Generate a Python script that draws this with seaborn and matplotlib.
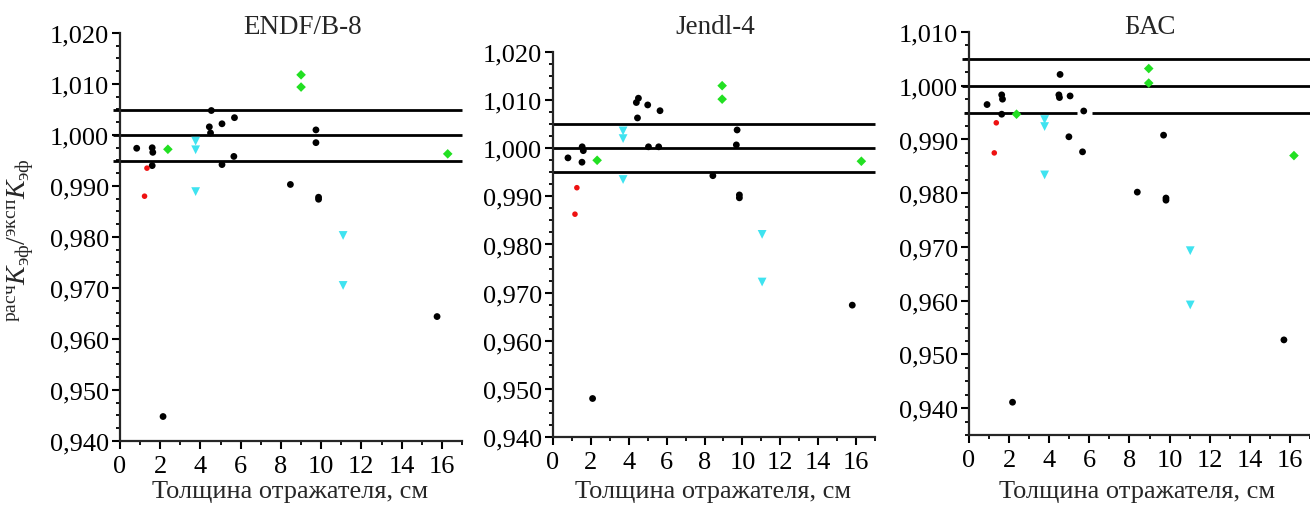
import numpy as np
import pandas as pd
import seaborn as sns
import matplotlib
matplotlib.use("Agg")
import matplotlib.pyplot as plt
from matplotlib.ticker import FuncFormatter, MultipleLocator

sns.set_style("ticks")
plt.rcParams['font.family'] = ['Liberation Serif', 'DejaVu Serif']
plt.rcParams['mathtext.fontset'] = 'custom'
plt.rcParams['mathtext.rm'] = 'Liberation Serif'
plt.rcParams['mathtext.it'] = 'Liberation Serif:italic'
plt.rcParams['mathtext.bf'] = 'Liberation Serif:bold'

titles = ["ENDF/B-8", "Jendl-4", "БАС"]
xlabel = "Толщина отражателя, см"
ylabel = r"$^{\mathrm{расч}}K_{\mathrm{эф}}/^{\mathrm{эксп}}K_{\mathrm{эф}}$"
ref_levels = [0.995, 1.000, 1.005]

# ---- ENDF/B-8 ----
endf_black_x = [0.83, 1.60, 1.63, 1.60, 2.14, 4.54, 4.44, 4.50, 5.07, 5.07, 5.69, 5.66, 8.47, 9.74, 9.74, 9.87, 9.87, 15.76]
endf_black_y = [0.9974, 0.9975, 0.9966, 0.9940, 0.9448, 1.0048, 1.0016, 1.0004, 0.9942, 1.0022, 1.0034, 0.9958, 0.9903, 1.0010, 0.9985, 0.9878, 0.9874, 0.9644]
endf_red_x = [1.34, 1.22]
endf_red_y = [0.9935, 0.9880]
endf_green_x = [2.38, 9.00, 9.00, 16.29]
endf_green_y = [0.9972, 1.0118, 1.0094, 0.9963]
endf_cyan_x = [3.76, 3.76, 3.76, 11.09, 11.09]
endf_cyan_y = [0.9988, 0.9971, 0.9889, 0.9803, 0.9705]

# ---- Jendl-4 ----
jendl_black_x = [0.79, 1.54, 1.60, 1.53, 2.09, 4.40, 4.51, 4.46, 5.00, 5.04, 5.58, 5.65, 8.44, 9.72, 9.68, 9.84, 9.84, 15.80]
jendl_black_y = [0.9980, 1.0003, 0.9995, 0.9971, 0.9480, 1.0095, 1.0104, 1.0063, 1.0090, 1.0003, 1.0003, 1.0078, 0.9943, 1.0038, 1.0007, 0.9903, 0.9897, 0.9674]
jendl_red_x = [1.26, 1.16]
jendl_red_y = [0.9918, 0.9863]
jendl_green_x = [2.33, 8.93, 8.93, 16.28]
jendl_green_y = [0.9975, 1.0130, 1.0102, 0.9973]
jendl_cyan_x = [3.70, 3.70, 3.70, 11.04, 11.04]
jendl_cyan_y = [1.0036, 1.0020, 0.9935, 0.9821, 0.9722]

# ---- БАС ----
bas_black_x = [0.90, 1.63, 1.67, 1.63, 2.17, 4.54, 4.48, 4.51, 5.04, 4.98, 5.72, 5.66, 8.39, 9.70, 9.82, 9.82, 15.70]
bas_black_y = [0.9965, 0.9983, 0.9975, 0.9947, 0.9411, 1.0021, 0.9983, 0.9978, 0.9981, 0.9905, 0.9953, 0.9877, 0.9802, 0.9908, 0.9791, 0.9787, 0.9527]
bas_red_x = [1.36, 1.26]
bas_red_y = [0.9931, 0.9875]
bas_green_x = [2.37, 8.96, 8.96, 16.20]
bas_green_y = [0.9947, 1.0032, 1.0005, 0.9870]
bas_cyan_x = [3.77, 3.77, 3.77, 11.03, 11.03]
bas_cyan_y = [0.9937, 0.9924, 0.9834, 0.9693, 0.9592]

# segments of the 0.995 line in the БАС panel (drawn with a break)
bas_low_line_x0 = [-0.25, 6.12]
bas_low_line_x1 = [5.37, 17.0]

panels = [
    dict(black=(endf_black_x, endf_black_y), red=(endf_red_x, endf_red_y),
         green=(endf_green_x, endf_green_y), cyan=(endf_cyan_x, endf_cyan_y)),
    dict(black=(jendl_black_x, jendl_black_y), red=(jendl_red_x, jendl_red_y),
         green=(jendl_green_x, jendl_green_y), cyan=(jendl_cyan_x, jendl_cyan_y)),
    dict(black=(bas_black_x, bas_black_y), red=(bas_red_x, bas_red_y),
         green=(bas_green_x, bas_green_y), cyan=(bas_cyan_x, bas_cyan_y)),
]

W, H = 1310, 506
fig = plt.figure(figsize=(W / 100, H / 100), dpi=100)

# axes boxes in pixels: left, right, top, bottom
boxes = [(120, 462, 34, 442), (553, 875, 53, 438), (969, 1310, 33, 436)]
ylims = [(0.940, 1.020), (0.940, 1.020), (0.935, 1.010)]
title_x = [303, 715, 1150]
xlabel_x = [290, 713, 1137]

styles = {
    'black': dict(color='black', marker='o', s=24),
    'red': dict(color='#ee1111', marker='o', s=16),
    'green': dict(color='#22e022', marker='D', s=24),
    'cyan': dict(color='#3fe3f0', marker='v', s=40),
}

for i, (box, p) in enumerate(zip(boxes, panels)):
    l, r, t, b = box
    ax = fig.add_axes([l / W, 1 - b / H, (r - l) / W, (b - t) / H])
    ax.set_facecolor('none')
    ax.set_xlim(0, 17)
    ax.set_ylim(*ylims[i])
    # reference lines
    for lev in ref_levels:
        if i == 2 and lev == 0.995:
            ax.hlines([lev] * len(bas_low_line_x0), bas_low_line_x0, bas_low_line_x1,
                      color='black', lw=2.0, zorder=2, clip_on=False)
        else:
            x0 = -0.35 if i != 1 else 0
            ax.hlines(lev, x0, 17, color='black', lw=2.0, zorder=2, clip_on=False)
    for key in ['black', 'red', 'cyan', 'green']:
        xs, ys = p[key]
        st = styles[key]
        sns.scatterplot(x=xs, y=ys, ax=ax, color=st['color'], marker=st['marker'],
                        s=st['s'], linewidth=0, edgecolor='none', zorder=3, legend=False)
    sns.despine(ax=ax)
    ax.spines['left'].set_linewidth(1.6)
    ax.spines['bottom'].set_linewidth(1.6)
    ax.xaxis.set_major_locator(MultipleLocator(2))
    ax.xaxis.set_minor_locator(MultipleLocator(1))
    ax.yaxis.set_major_locator(MultipleLocator(0.01))
    ax.yaxis.set_minor_locator(MultipleLocator(0.0025))
    ax.yaxis.set_major_formatter(FuncFormatter(lambda v, pos: f"{v:.3f}".replace('.', ',')))
    ax.xaxis.set_major_formatter(FuncFormatter(lambda v, pos: f"{int(round(v))}"))
    ax.tick_params(which='major', direction='out', length=6, width=1.5, labelsize=19,
                   colors='black', pad=2)
    ax.tick_params(axis='x', which='major', pad=4)
    ax.tick_params(which='minor', direction='out', length=3, width=1.3, colors='black')
    ax.set_xlabel("")
    ax.set_ylabel("")
    fig.text(title_x[i] / W, 1 - 27 / H, titles[i], ha='center', va='center', fontsize=19.5)
    fig.text(xlabel_x[i] / W, 1 - 492 / H, xlabel, ha='center', va='center', fontsize=19)

fig.text(20 / W, 1 - 240 / H, ylabel, rotation=90, ha='center', va='center', fontsize=20)

fig.savefig("out.png", dpi=100)
